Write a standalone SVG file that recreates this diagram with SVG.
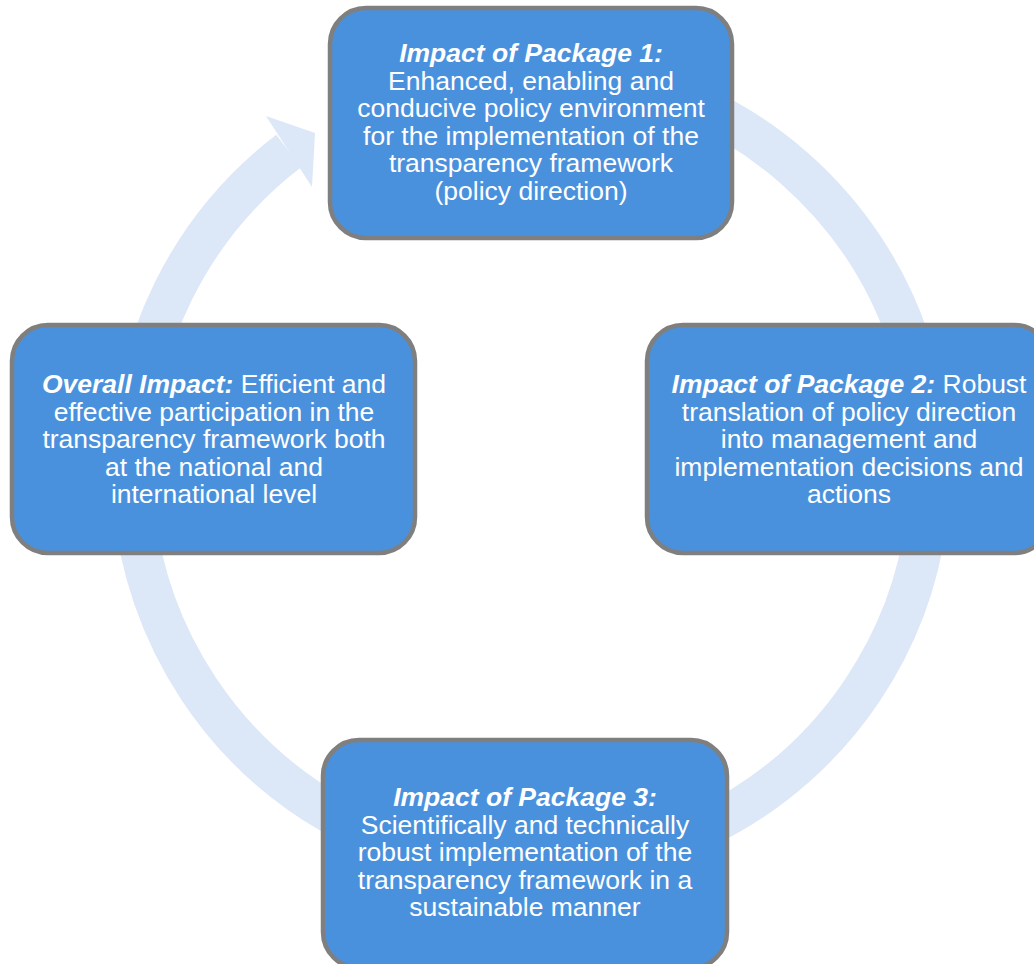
<svg xmlns="http://www.w3.org/2000/svg" width="1034" height="964" viewBox="0 0 1034 964">
<style>
.box{fill:#4A91DD;stroke:#7F7F7F;stroke-width:4.5}
.t{font-family:"Liberation Sans",Arial,sans-serif;font-size:26.5px;fill:#FFFFFF;text-anchor:middle}
.b{font-weight:bold;font-style:italic}
.ring{fill:none;stroke:#DCE8F7;stroke-width:41}
</style>
<rect width="1034" height="964" fill="#FFFFFF"/>
<g id="connectors">
<path class="ring" d="M 427.7 82.6 A 399 399 0 1 1 288.7 151.0"/>
<polygon points="266,116 315,133 312,187" fill="#DCE8F7"/>
</g>
<g id="node-package1">
<rect class="box" x="330" y="8" width="402" height="230" rx="36"/>
<text class="t" x="531" y="62"><tspan class="b">Impact of Package 1:</tspan></text>
<text class="t" x="531" y="89.5">Enhanced, enabling and</text>
<text class="t" x="531" y="117">conducive policy environment</text>
<text class="t" x="531" y="144.5">for the implementation of the</text>
<text class="t" x="531" y="172">transparency framework</text>
<text class="t" x="531" y="199.5">(policy direction)</text>
</g>
<g id="node-overall">
<rect class="box" x="12" y="325" width="403" height="228" rx="36"/>
<text class="t" x="214" y="393"><tspan class="b">Overall Impact:</tspan> Efficient and</text>
<text class="t" x="214" y="420.5">effective participation in the</text>
<text class="t" x="214" y="448">transparency framework both</text>
<text class="t" x="214" y="475.5">at the national and</text>
<text class="t" x="214" y="503">international level</text>
</g>
<g id="node-package2">
<rect class="box" x="647" y="325" width="403" height="228" rx="36"/>
<text class="t" x="849" y="393"><tspan class="b">Impact of Package 2:</tspan> Robust</text>
<text class="t" x="849" y="420.5">translation of policy direction</text>
<text class="t" x="849" y="448">into management and</text>
<text class="t" x="849" y="475.5">implementation decisions and</text>
<text class="t" x="849" y="503">actions</text>
</g>
<g id="node-package3">
<rect class="box" x="323" y="740" width="404" height="228" rx="36"/>
<text class="t" x="525" y="806"><tspan class="b">Impact of Package 3:</tspan></text>
<text class="t" x="525" y="833.5">Scientifically and technically</text>
<text class="t" x="525" y="861">robust implementation of the</text>
<text class="t" x="525" y="888.5">transparency framework in a</text>
<text class="t" x="525" y="916">sustainable manner</text>
</g>
</svg>
